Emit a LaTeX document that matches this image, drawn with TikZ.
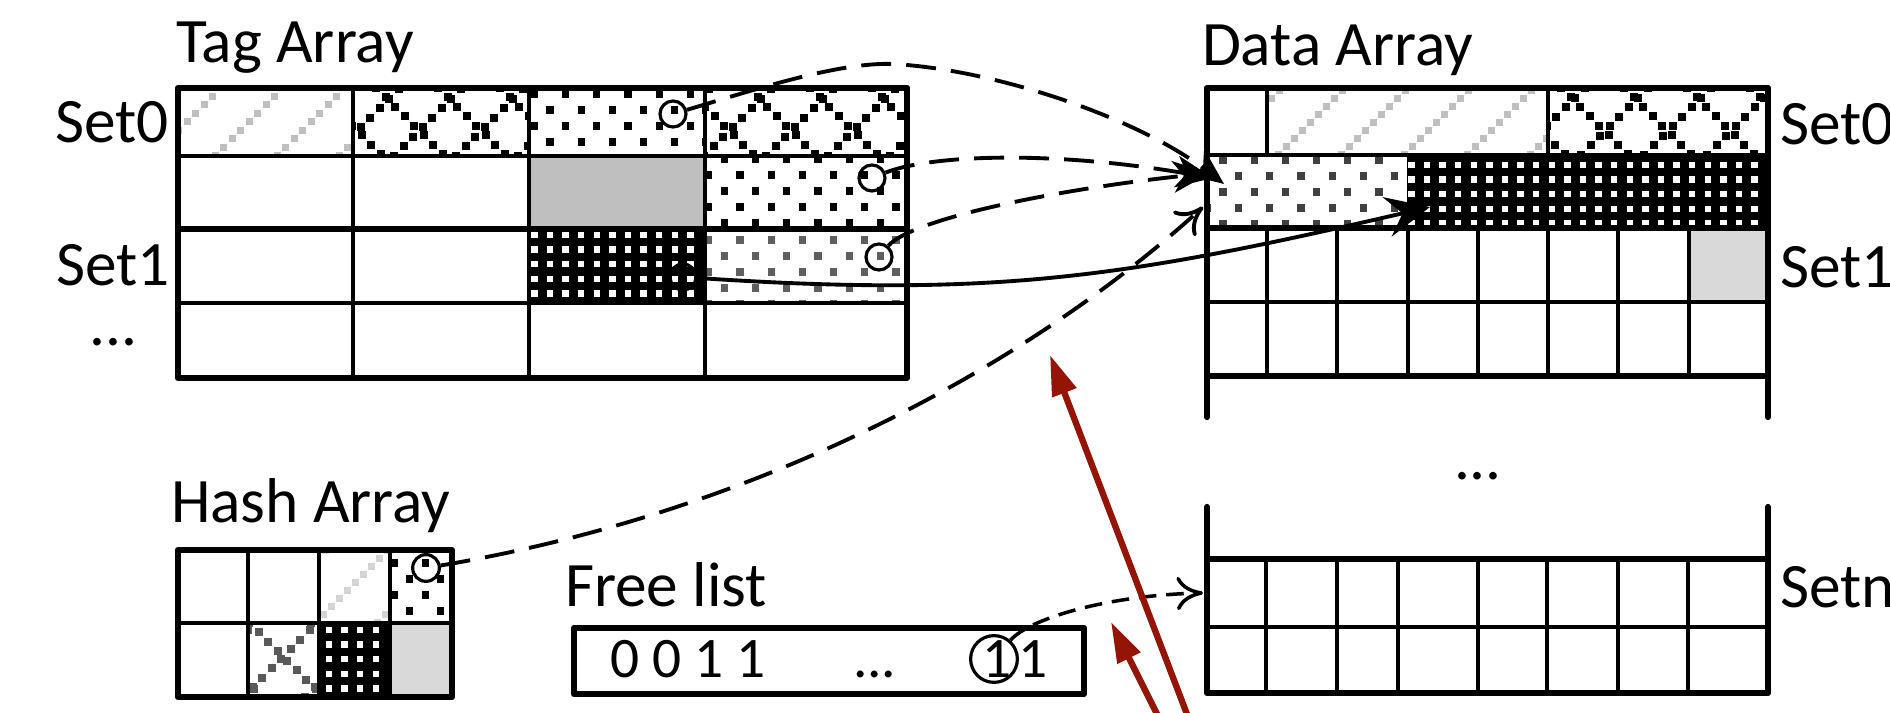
\documentclass[tikz,border=0pt]{standalone}
\usepackage{fontspec}
\setmainfont{Carlito}
\usetikzlibrary{arrows.meta}

\definecolor{hatchgray}{HTML}{BFBFBF}
\definecolor{paleline}{HTML}{D4D4D4}
\definecolor{cellgray}{HTML}{BFBFBF}
\definecolor{lightcell}{HTML}{D9D9D9}
\definecolor{dotgray}{HTML}{5F5F5F}
\definecolor{darkdot}{HTML}{404040}
\definecolor{crossgray}{HTML}{595959}
\definecolor{arrowred}{RGB}{148,20,5}

% chains of small squares along parallel up-right 45-degree lines (x+y = c + k*spacing)
% #1 colour, #2-#5 box, #6 offset c, #7 spacing, #8 step, #9 square size
\newcommand\chainup[9]{%
  \begin{scope}
    \clip (#2,#3) rectangle (#4,#5);
    \pgfmathtruncatemacro\kfrom{floor(((#2)+(#3)-(#6))/(#7))-1}%
    \pgfmathtruncatemacro\kto{ceil(((#4)+(#5)-(#6))/(#7))+1}%
    \pgfmathtruncatemacro\sn{ceil(((#5)-(#3))/(#8))+2}%
    \foreach \kk in {\kfrom,...,\kto}{%
      \foreach \ss in {0,...,\sn}{%
        \fill[#1] ({(#6)+(#7)*(\kk)-(#5)-(#8)+\ss*(#8)-(#9)/2},{(#5)+(#8)-\ss*(#8)-(#9)/2}) rectangle ++(#9,#9);
      }%
    }%
  \end{scope}}

% same, along down-right lines (x-y = c + k*spacing)
\newcommand\chaindown[9]{%
  \begin{scope}
    \clip (#2,#3) rectangle (#4,#5);
    \pgfmathtruncatemacro\kfrom{floor(((#2)-(#5)-(#6))/(#7))-1}%
    \pgfmathtruncatemacro\kto{ceil(((#4)-(#3)-(#6))/(#7))+1}%
    \pgfmathtruncatemacro\sn{ceil(((#5)-(#3))/(#8))+2}%
    \foreach \kk in {\kfrom,...,\kto}{%
      \foreach \ss in {0,...,\sn}{%
        \fill[#1] ({(#6)+(#7)*(\kk)+(#3)-(#8)+\ss*(#8)-(#9)/2},{(#3)-(#8)+\ss*(#8)-(#9)/2}) rectangle ++(#9,#9);
      }%
    }%
  \end{scope}}

% staggered square dots; #1 colour, #2-#5 box, #6,#7 centre of one dot
\newcommand\dotpattern[7]{%
  \begin{scope}
    \clip (#2,#3) rectangle (#4,#5);
    \pgfmathsetmacro\ox{(#6)-31.2*(floor(((#6)-(#2))/31.2)+1)}%
    \pgfmathsetmacro\oy{(#7)-32*(floor(((#7)-(#3))/32)+1)}%
    \pgfmathtruncatemacro\cntI{ceil(((#4)-\ox)/31.2)+1}%
    \pgfmathtruncatemacro\cntJ{ceil(((#5)-\oy)/16)+1}%
    \foreach \jj in {0,...,\cntJ}{%
      \foreach \ii in {0,...,\cntI}{%
        \fill[#1] ({\ox+\ii*31.2-mod(\jj,2)*15.6-3.6},{\oy+\jj*16-3.6}) rectangle ++(7.2,7.2);
      }%
    }%
  \end{scope}}

% black cell with white squares on a plain grid; #1-#4 box, #5,#6 centre of one square
\newcommand\whitegrid[6]{%
  \fill[black] (#1,#2) rectangle (#3,#4);
  \begin{scope}
    \clip (#1,#2) rectangle (#3,#4);
    \pgfmathsetmacro\ox{(#5)-15.6*(floor(((#5)-(#1))/15.6)+1)}%
    \pgfmathsetmacro\oy{(#6)-14.6*(floor(((#6)-(#2))/14.6)+1)}%
    \pgfmathtruncatemacro\cntI{ceil(((#3)-\ox)/15.6)+1}%
    \pgfmathtruncatemacro\cntJ{ceil(((#4)-\oy)/14.6)+1}%
    \foreach \jj in {0,...,\cntJ}{%
      \foreach \ii in {0,...,\cntI}{%
        \fill[white] ({\ox+\ii*15.6-3.2},{\oy+\jj*14.6-3.2}) rectangle ++(6.4,6.4);
      }%
    }%
  \end{scope}}

\tikzset{
  cellrule/.style={line width=0.95pt},
  setrule/.style={line width=1.6pt},
  boxrule/.style={line width=1.8pt, line join=round, line cap=round},
  ring/.style={circle, draw, line width=0.9pt, inner sep=0pt, minimum size=7.4pt},
  dashlink/.style={line width=1.1pt, dash pattern=on 8.5pt off 4.3pt},
  dotlink/.style={line width=1pt, dash pattern=on 5pt off 2.8pt},
  solidtip/.style={-{Stealth[length=10.5pt,width=9pt,inset=3pt]}},
  bigtip/.style={-{Stealth[length=12.5pt,width=11.5pt,inset=4.5pt]}},
  opentip/.style={-{Computer Modern Rightarrow[length=7.5pt,width=9.5pt]}},
  redlink/.style={draw=arrowred, line width=1.8pt, -{Triangle[length=11.5pt,width=7pt]}},
  lbl/.style={font=\fontsize{18}{21}\selectfont, inner sep=0pt, outer sep=0pt},
  bits/.style={font=\fontsize{16.3}{19}\selectfont, inner sep=0pt, outer sep=0pt},
}

\begin{document}
\begin{tikzpicture}[x=0.01cm,y=-0.01cm]
\clip (0,0) rectangle (1890,713);
\fill[white] (0,0) rectangle (1890,713);

% ---------- Tag array: cell contents
\chainup{hatchgray}{178}{88}{353}{156}{371}{62}{8.5}{7}
\chainup{black}{353}{88}{529}{156}{488}{62}{9.5}{8}
\chaindown{black}{353}{88}{529}{156}{288}{62}{9.5}{8}
\dotpattern{black}{529}{88}{705}{156}{550}{110}
\chainup{black}{705}{88}{907}{156}{488}{62}{9.5}{8}
\chaindown{black}{705}{88}{907}{156}{288}{62}{9.5}{8}
\fill[cellgray] (529,156) rectangle (705,229);
\dotpattern{black}{705}{156}{907}{229}{740}{175}
\whitegrid{529}{229}{705}{303}{550}{235}
\dotpattern{dotgray}{705}{229}{907}{303}{740}{240}

% ---------- Data array: cell contents
\chainup{hatchgray}{1267}{88}{1548}{155}{1433}{63}{8}{7}
\chainup{black}{1548}{88}{1768}{155}{1673}{63}{9.5}{8}
\chaindown{black}{1548}{88}{1768}{155}{1473}{63}{9.5}{8}
\dotpattern{darkdot}{1207}{155}{1407}{228}{1223}{160}
\whitegrid{1407}{155}{1768}{228}{1427}{165}
\fill[lightcell] (1689,228) rectangle (1768,302);

% ---------- Hash array: cell contents
\chainup{paleline}{319}{550}{390}{623}{938}{62}{8}{7}
\dotpattern{black}{390}{550}{452}{623}{394}{563}
\chainup{crossgray}{248}{623}{319}{697}{940}{62}{9.5}{8}
\chaindown{crossgray}{248}{623}{319}{697}{-374}{62}{9.5}{8}
\whitegrid{319}{623}{390}{697}{329}{630}
\fill[lightcell] (390,623) rectangle (452,697);

% ---------- Tag array: grid
\foreach \gx in {353,529,705} \draw[cellrule] (\gx,88) -- (\gx,378);
\draw[cellrule] (178,156) -- (907,156);
\draw[cellrule] (178,303) -- (907,303);
\draw[setrule] (178,229) -- (907,229);
\draw[boxrule] (178,88) rectangle (907,378);

% ---------- Data array: upper block (Set0, Set1)
\draw[cellrule] (1267,88) -- (1267,155);
\draw[cellrule] (1548,88) -- (1548,155);
\foreach \gx in {1267,1337,1408,1478,1548,1618,1689} \draw[cellrule] (\gx,228) -- (\gx,376);
\draw[cellrule] (1207,155) -- (1768,155);
\draw[cellrule] (1207,302) -- (1768,302);
\draw[setrule] (1207,228) -- (1768,228);
\draw[setrule] (1207,376) -- (1768,376);
\draw[boxrule] (1207,417) -- (1207,88) -- (1768,88) -- (1768,417);

% ---------- Data array: lower block (Setn)
\foreach \gx in {1266,1337,1398,1478,1547,1618,1688} \draw[cellrule] (\gx,559) -- (\gx,693);
\draw[cellrule] (1207,627) -- (1768,627);
\draw[setrule] (1207,559) -- (1768,559);
\draw[boxrule] (1207,507) -- (1207,693) -- (1768,693) -- (1768,507);

% ---------- Hash array: grid
\foreach \gx in {248,319,390} \draw[cellrule] (\gx,550) -- (\gx,697);
\draw[cellrule, line width=1.25pt] (178,623) -- (452,623);
\draw[boxrule] (178,550) rectangle (452,697);

% ---------- Free list box
\draw[boxrule] (574,628) rectangle (1084,694);

% ---------- labels
\node[lbl,anchor=base west] (tagTitle) at (176,63) {Tag Array};
\node[lbl,anchor=base west] (dataTitle) at (1202,66) {Data Array};
\node[lbl,anchor=base west] (hashTitle) at (171,523) {Hash Array};
\node[lbl,anchor=base west] (freeTitle) at (565,607) {Free list};
\node[lbl,anchor=base east] (tagSet0) at (169,143) {Set0};
\node[lbl,anchor=base east] (tagSet1) at (170,286) {Set1};
\node[lbl,anchor=base west] (tagMore) at (90,346) {...};
\node[lbl,anchor=base west] (dataSet0) at (1780,145) {Set0};
\node[lbl,anchor=base west] (dataSet1) at (1780,288) {Set1};
\node[lbl,anchor=base west] (dataSetn) at (1780,608) {Setn};
\node[lbl,anchor=base west] (dataMore) at (1454,480) {...};

\node[bits,anchor=base west] (bitsHead) at (610,678) {0 0 1 1};
\node[bits,anchor=base west] (bitsDots) at (853,678) {...};
\node[bits,anchor=base west] (bitFree) at (982,678) {1};
\node[bits,anchor=base west] (bitLast) at (1018,678) {1};

% ---------- pointer rings
\node[ring] (hA) at (673,114) {};
\node[ring] (hB) at (872,178) {};
\node[ring] (hC) at (879,257) {};
\node[ring] (hE) at (683,277) {};
\node[ring, minimum size=7.6pt] (hD) at (426,568) {};
\node[ring, minimum size=13.3pt] (hF) at (994,659) {};

% ---------- connector ends
\coordinate (inA) at (1224,184);
\coordinate (inB) at (1213,178);
\coordinate (inC) at (1210,173);
\coordinate (inD) at (1203,207);
\coordinate (inE) at (1430,207);
\coordinate (inF) at (1203,593);
\coordinate (longFoot) at (1193,730);
\coordinate (longTip) at (1050,355);
\coordinate (shortFoot) at (1165,730);
\coordinate (shortTip) at (1111,622);

% ---------- connectors
\draw[dashlink, solidtip] (hA) .. controls (760,88) and (840,62) .. (893,64)
      .. controls (1000,70) and (1140,120) .. (inA);
\draw[dashlink, solidtip] (hB) .. controls (930,155) and (1050,150) .. (inB);
\draw[dashlink, solidtip] (hC) .. controls (910,220) and (1050,190) .. (inC);
\draw[dashlink, opentip] (hD) .. controls (768,510) and (1032,362) .. (inD);
\draw[line width=1.1pt, bigtip] (hE) .. controls (997,298) and (1127,277) .. (inE);
\draw[dotlink, opentip] (hF) .. controls (1030,618) and (1110,595) .. (inF);

\draw[redlink] (longFoot) -- (longTip);
\draw[redlink] (shortFoot) -- (shortTip);
\end{tikzpicture}
\end{document}
